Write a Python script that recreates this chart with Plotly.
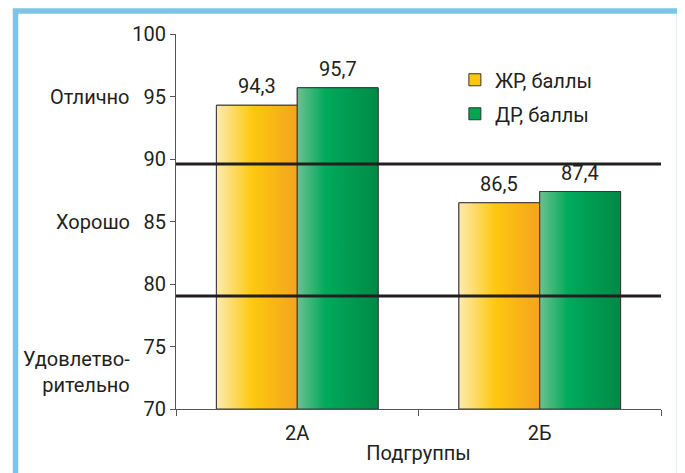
import plotly.graph_objects as go

# ---- data ----
categories = ["2А", "2Б"]
series_names = ["ЖР, баллы", "ДР, баллы"]
zr_values = [94.3, 86.5]
dr_values = [95.7, 87.4]
threshold_lines = [89.6, 79.05]
grade_labels = ["Отлично", "Хорошо", "Удовлетво-<br>рительно"]
grade_positions = [95, 85, 73]
y_range = [70, 100]
y_ticks = [70, 75, 80, 85, 90, 95, 100]

# ---- style ----
FONT = "Roboto, Arial, sans-serif"
TXT = "#231f20"
AX = "#555555"
BAR_W = 1 / 3
series_values = [zr_values, dr_values]
offsets = [-BAR_W, 0.0]
solid_colors = ["#fdc70c", "#00a651"]
gradients = [
    [[0, "#fdeab0"], [0.45, "#fdc80e"], [1, "#f4a31f"]],
    [[0, "#6cc18f"], [0.35, "#00aa5b"], [1, "#008a46"]],
]

xpos = list(range(len(categories)))
fig = go.Figure()

# legend / base bars
for name, vals, off, col in zip(series_names, series_values, offsets, solid_colors):
    fig.add_trace(go.Bar(
        x=xpos, y=vals, name=name, width=BAR_W, offset=off, legendgroup=name,
        marker=dict(color=col, line=dict(color="#333333", width=1)),
    ))

# gradient overlays, one per bar
base = y_range[0]
for vals, off, grad in zip(series_values, offsets, gradients):
    for xi, v in zip(xpos, vals):
        x0 = xi + off
        x1 = x0 + BAR_W
        fig.add_trace(go.Scatter(
            x=[x0, x0, x1, x1, x0], y=[base, v, v, base, base],
            mode="lines", fill="toself",
            fillgradient=dict(type="horizontal", colorscale=grad),
            line=dict(color="#3a3a3a", width=1),
            showlegend=False, hoverinfo="skip",
        ))
        fig.add_annotation(
            x=x0 + BAR_W / 2, y=v, xref="x", yref="y",
            text=f"{v:.1f}".replace(".", ","), showarrow=False,
            yanchor="bottom", yshift=5,
            font=dict(family=FONT, size=20, color=TXT),
        )

# threshold lines
for yv in threshold_lines:
    fig.add_shape(type="line", xref="x domain", yref="y", x0=0, x1=1, y0=yv, y1=yv,
                  line=dict(color="#231f20", width=3), layer="above")

# grade labels on the left
for lab, yv in zip(grade_labels, grade_positions):
    fig.add_annotation(
        x=0, y=yv, xref="paper", yref="y", xshift=-44, xanchor="right",
        align="right", text=lab, showarrow=False,
        font=dict(family=FONT, size=20, color=TXT),
    )

# outer light-blue frame
fig.add_shape(type="rect", xref="paper", yref="paper",
              x0=(15.5 - 176) / 485, x1=(679.5 - 176) / 485,
              y0=-0.3, y1=(409 - 11) / 375,
              line=dict(color="#7dc4e6", width=5.5), fillcolor="rgba(0,0,0,0)",
              layer="below")

fig.update_layout(
    width=677, height=465,
    margin=dict(l=168, r=24, t=26, b=64),
    paper_bgcolor="white", plot_bgcolor="white",
    font=dict(family=FONT, size=20, color=TXT),
    showlegend=True,
    legend=dict(x=0.575, y=0.93, xanchor="left", yanchor="top",
                bgcolor="rgba(0,0,0,0)", font=dict(family=FONT, size=20, color=TXT),
                traceorder="grouped", tracegroupgap=5),
    xaxis=dict(
        type="linear", range=[-0.5, len(categories) - 0.5],
        tickmode="array", tickvals=xpos, ticktext=categories, ticks="",
        showline=True, linecolor=AX, linewidth=1, showgrid=False, zeroline=False,
        ticklabelstandoff=6,
        minor=dict(tickmode="array", tickvals=[-0.5, 0.5, 1.5], ticks="outside",
                   ticklen=6, tickcolor=AX, showgrid=False),
        title=dict(text="Подгруппы", standoff=1, font=dict(family=FONT, size=20, color=TXT)),
    ),
    yaxis=dict(
        range=y_range, tickmode="array", tickvals=y_ticks,
        ticks="outside", ticklen=5, tickcolor=AX,
        showline=True, linecolor=AX, linewidth=1, showgrid=False, zeroline=False,
    ),
)

fig.write_html("out.html")
